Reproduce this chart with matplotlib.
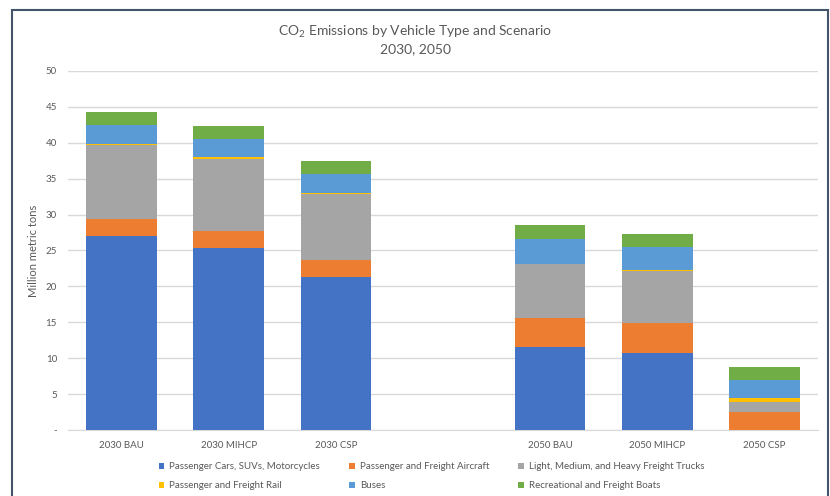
import matplotlib
matplotlib.use("Agg")
import matplotlib.pyplot as plt
from matplotlib.patches import Rectangle
import numpy as np

plt.rcParams["font.family"] = ["Lato", "DejaVu Sans"]
plt.rcParams["mathtext.fontset"] = "custom"
plt.rcParams["mathtext.rm"] = "Lato"

# Scenarios (the blank slot separates the 2030 and 2050 groups)
scenarios = ["2030 BAU", "2030 MIHCP", "2030 CSP", "", "2050 BAU", "2050 MIHCP", "2050 CSP"]

# Million metric tons of CO2 per vehicle type
cars     = [27.0, 25.3, 21.3, 0, 11.5, 10.7, 0.0]
aircraft = [2.45, 2.4, 2.4, 0, 4.15, 4.15, 2.55]
trucks   = [10.3, 10.0, 9.15, 0, 7.5, 7.35, 1.4]
rail     = [0.02, 0.25, 0.2, 0, 0.02, 0.15, 0.55]
buses    = [2.7, 2.55, 2.6, 0, 3.4, 3.1, 2.5]
boats    = [1.85, 1.9, 1.75, 0, 1.95, 1.9, 1.8]

series = [
    ("Passenger Cars, SUVs, Motorcycles", cars, "#4472C4"),
    ("Passenger and Freight Aircraft", aircraft, "#ED7D31"),
    ("Light, Medium, and Heavy Freight Trucks", trucks, "#A5A5A5"),
    ("Passenger and Freight Rail", rail, "#FFC000"),
    ("Buses", buses, "#5B9BD5"),
    ("Recreational and Freight Boats", boats, "#70AD47"),
]

text_color = "#595959"
grid_color = "#D9D9D9"

fig = plt.figure(figsize=(8.3, 4.96), dpi=100)
ax = fig.add_axes([0.082, 0.133, 0.9035, 0.724])

x = np.arange(len(scenarios))
bottom = np.zeros(len(scenarios))
handles = []
for name, vals, color in series:
    vals = np.array(vals, dtype=float)
    b = ax.bar(x, vals, 0.66, bottom=bottom, color=color, label=name, zorder=3)
    handles.append(b)
    bottom += vals

ax.set_xlim(-0.5, len(scenarios) - 0.5)
ax.set_ylim(0, 50)
ax.set_yticks(np.arange(0, 51, 5))
ax.set_yticklabels(["-"] + [str(v) for v in range(5, 51, 5)])
ax.set_xticks(x)
ax.set_xticklabels(scenarios)
ax.tick_params(axis="both", length=0, labelsize=7, colors=text_color)
ax.tick_params(axis="x", pad=8)
ax.tick_params(axis="y", pad=8)
ax.grid(axis="y", color=grid_color, linewidth=1, zorder=0)
for side in ["top", "right", "left"]:
    ax.spines[side].set_visible(False)
ax.spines["bottom"].set_color(grid_color)
ax.set_ylabel("Million metric tons", fontsize=8, color=text_color, labelpad=5)

fig.text(0.5, 0.935, "CO$_\\mathregular{2}$ Emissions by Vehicle Type and Scenario",
         ha="center", va="center", fontsize=10, color=text_color)
fig.text(0.5, 0.901, "2030, 2050", ha="center", va="center", fontsize=10, color=text_color)

# legend fills column-first, so reorder to read across rows
order = [0, 3, 1, 4, 2, 5]
fig.legend(handles=[handles[i] for i in order], loc="center", bbox_to_anchor=(0.52, 0.04),
           ncol=3, frameon=False, fontsize=7, handlelength=0.6, handleheight=0.6,
           handletextpad=0.5, columnspacing=3.0, labelspacing=1.0, labelcolor=text_color)

# chart frame
fig.patches.append(Rectangle((12 / 830, -0.05), 816 / 830, 1.05 - 10 / 496,
                             transform=fig.transFigure, fill=False,
                             edgecolor="#44546A", linewidth=1.5))

fig.savefig("out.png", dpi=100)
